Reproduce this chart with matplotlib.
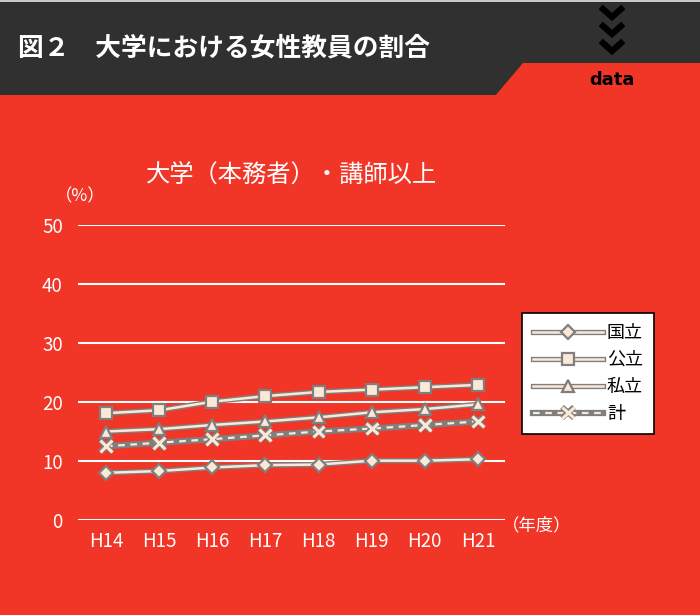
import matplotlib.pyplot as plt
import matplotlib.patheffects as pe
from matplotlib.patches import Rectangle, Polygon
from matplotlib.legend_handler import HandlerTuple

plt.rcParams['font.family'] = ['Noto Sans CJK JP', 'DejaVu Sans']

# data
years = ['H14', 'H15', 'H16', 'H17', 'H18', 'H19', 'H20', 'H21']
kokuritsu = [8.0, 8.3, 8.9, 9.3, 9.4, 10.05, 10.05, 10.3]
kouritsu = [18.1, 18.6, 20.05, 21.0, 21.7, 22.1, 22.5, 22.9]
shiritsu = [15.0, 15.4, 16.1, 16.7, 17.4, 18.25, 18.8, 19.6]
total = [12.5, 13.1, 13.7, 14.35, 15.0, 15.5, 16.1, 16.7]
series_names = ['国立', '公立', '私立', '計']

red = '#f13527'
dark = '#303030'
cream = '#fbe8d6'
gray = '#7f7f7f'

fig = plt.figure(figsize=(7, 6.15), dpi=100, facecolor=red)

# header drawn in pixel coords
bg = fig.add_axes([0, 0, 1, 1], zorder=-1)
bg.set_xlim(0, 700)
bg.set_ylim(615, 0)
bg.axis('off')
bg.add_patch(Rectangle((0, 0), 700, 95, color=dark, lw=0))
bg.add_patch(Rectangle((0, 0), 700, 2, color='#c8c8c8', lw=0))
bg.add_patch(Polygon([(495, 96), (523, 63), (700, 63), (700, 96)], closed=True, color=red, lw=0))
for y0 in [9, 26, 43]:
    bg.plot([603, 612, 621], [y0, y0 + 8, y0], color='black', lw=4.5, solid_joinstyle='miter')
bg.text(612, 80, 'data', color='black', fontsize=13, fontweight='bold',
        family='DejaVu Sans', ha='center', va='center')
bg.text(18, 48, '図２　大学における女性教員の割合', color='white', fontsize=18.5,
        fontweight='bold', ha='left', va='center')

ax = fig.add_axes([78 / 700, 95 / 615, 427 / 700, 295 / 615])
ax.set_facecolor(red)
x = list(range(len(years)))

handles = []
styles = [(kokuritsu, 'D', 7), (kouritsu, 's', 9), (shiritsu, '^', 8.5)]
for vals, mk, ms in styles:
    ln, = ax.plot(x, vals, color=cream, lw=1.8, zorder=3,
                  path_effects=[pe.Stroke(linewidth=3.8, foreground=gray), pe.Normal()])
    mkr, = ax.plot(x, vals, ls='none', marker=mk, ms=ms, mfc=cream, mec=gray, mew=1.6, zorder=4)
    handles.append((ln, mkr))

under, = ax.plot(x, total, color=gray, lw=4.5, zorder=3)
dash, = ax.plot(x, total, color=cream, lw=1.6, ls=(0, (3, 2.5)), zorder=3)
xm, = ax.plot(x, total, ls='none', marker='x', ms=8.5, mec=cream, mew=2.2, zorder=4,
              path_effects=[pe.Stroke(linewidth=4, foreground=gray), pe.Normal()])
handles.append((under, dash, xm))

ax.set_xlim(-0.527, 7.51)
ax.set_ylim(0, 50)
ax.set_yticks([0, 10, 20, 30, 40, 50])
ax.set_xticks(x)
ax.set_xticklabels(years)
ax.grid(axis='y', color='white', lw=1.5, zorder=1)
for s in ax.spines.values():
    s.set_visible(False)
ax.tick_params(axis='both', length=0, colors='white', labelsize=13.5)
ax.tick_params(axis='x', pad=8)
ax.tick_params(axis='y', pad=11)

fig.text(292 / 700, 1 - 175 / 615, '大学（本務者）・講師以上', color='white', fontsize=17.5,
         ha='center', va='center')
fig.text(80 / 700, 1 - 196 / 615, '（%）', color='white', fontsize=12.5, ha='center', va='center')
fig.text(537 / 700, 1 - 525 / 615, '（年度）', color='white', fontsize=12.5, ha='center', va='center')

leg = fig.legend(handles, series_names, loc='upper left',
                 bbox_to_anchor=(522 / 700, 1 - 313 / 615),
                 handler_map={tuple: HandlerTuple(ndivide=1)},
                 fontsize=13, frameon=True, fancybox=False, edgecolor='black',
                 facecolor='white', framealpha=1, handlelength=3.9,
                 labelspacing=0.5, borderpad=0.6, handletextpad=0.2, borderaxespad=0)
leg.get_frame().set_linewidth(1.2)

fig.savefig('out.png', dpi=100, facecolor=red)
